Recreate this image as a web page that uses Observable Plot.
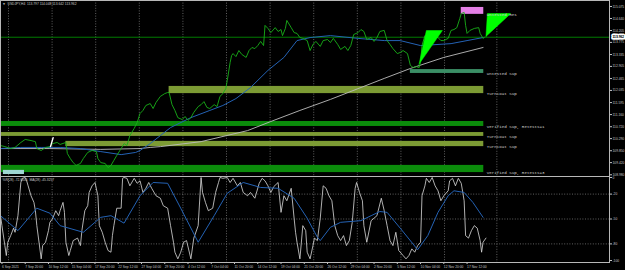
<!DOCTYPE html>
<html><head><meta charset="utf-8">
<script src="https://cdn.jsdelivr.net/npm/d3@7"></script>
<script src="https://cdn.jsdelivr.net/npm/@observablehq/plot@0.6"></script>
<style>
html,body{margin:0;padding:0;background:#000;}
#chart{width:625px;height:270px;background:#000;overflow:hidden}
#chart svg{display:block;max-width:none}
g[aria-label^="x-axis"] text{text-anchor:start !important}
</style></head><body><div id="chart"></div>
<script>
// ---------- DATA ----------
const symbolTitle = "USDJPY,H4  113.797 114.048 113.642 113.962";
const bidPrice = 113.962;
const priceTicks = [115.075,114.640,114.205,113.775,113.335,112.905,112.465,112.035,111.595,111.160,110.720,110.290,109.850,109.420,108.980];
const wprTicks = [0,-20,-50,-80,-100];
const wprLevels = [-20,-50,-80];
const gridBars = [5.5,35.5,65.5,95.5,125.5,155.5,185.5,215.5,245.5,275.5,305.5,341.5];
const labelBars = [1,17,33,49,65,81,97,113,129,145,161,177,193,209,225,241,257,273,289,305,321];
const dateLabels = ["6 Sep 2021","7 Sep 20:00","10 Sep 12:00","15 Sep 04:00","17 Sep 20:00","22 Sep 12:00","27 Sep 04:00","29 Sep 20:00","4 Oct 12:00","7 Oct 04:00","11 Oct 20:00","14 Oct 12:00","19 Oct 04:00","21 Oct 20:00","26 Oct 12:00","29 Oct 04:00","2 Nov 20:00","5 Nov 12:00","10 Nov 04:00","12 Nov 20:00","17 Nov 12:00"];

const priceBar = [0,3,7,10,14,17,21,24,25,28,31,34,36,39,41,45,46,48,50,52,55,57,60,63,66,67,69,72,74,76,78,80,83,85,87,89,92,94,96,98,100,103,105,107,110,113,115,116,118,120,122,125,127,129,131,133,136,138,140,142,144,147,149,151,153,155,156,158,159,160,162,164,166,169,171,173,175,177,179,181,182,184,186,189,191,193,194,196,197,200,202,204,206,208,211,213,215,217,220,222,225,227,229,232,234,237,239,241,243,246,248,250,252,255,257,259,261,264,266,268,270,273,275,277,280,282,284,286,288,289,290,292,294,296,299,301,303,305,308,310,312,314,316,317,319,320,321,323,326,329,330,332,333];
const priceClose = [110.04,110.00,109.93,109.97,110.15,110.26,110.22,110.18,109.93,109.86,109.97,110.00,110.11,110.15,110.08,110.15,109.75,109.57,109.42,109.32,109.39,109.57,109.79,109.86,109.82,109.57,109.42,109.39,109.24,109.32,109.50,109.68,109.93,110.11,110.04,110.40,110.66,110.87,111.20,111.31,111.49,111.56,111.38,111.60,111.82,111.92,111.96,111.96,111.52,111.31,111.05,110.98,111.09,110.95,111.05,111.24,111.45,111.52,111.63,111.42,111.38,111.52,111.45,111.82,111.92,112.10,112.39,113.05,113.30,113.37,113.26,113.48,113.34,113.23,113.48,113.59,113.55,113.66,113.81,113.66,114.39,114.28,114.13,114.31,114.17,114.24,114.02,114.28,114.57,114.31,114.13,114.10,113.95,113.92,113.84,113.48,113.70,113.81,113.63,113.84,113.88,113.77,113.92,113.70,113.52,113.63,113.48,113.66,114.06,114.13,114.24,114.17,113.88,113.95,113.81,113.95,114.17,114.21,113.84,113.70,113.55,113.37,113.41,113.48,113.37,112.94,112.86,112.90,112.86,113.05,113.66,114.02,113.99,114.10,114.02,113.95,113.84,113.84,113.92,114.21,114.24,114.31,114.64,114.82,114.86,114.39,114.10,114.21,114.28,114.31,114.10,113.92,113.96];

const maFastBar = [0,14,28,41,55,69,83,93,96,103,110,117,131,144,153,162,172,184,195,204,213,227,246,264,275,289,310,321,332];
const maFastVal = [109.93,109.97,109.97,109.97,109.93,109.82,109.71,109.79,109.86,110.11,110.40,110.69,111.05,111.31,111.49,111.74,112.14,112.76,113.23,113.84,113.95,114.02,113.92,113.84,113.84,113.66,113.73,113.84,113.95];

const maSlowBar = [0,34,69,96,103,110,138,170,186,206,227,246,264,282,305,332];
const maSlowVal = [109.93,109.93,109.90,109.93,109.97,110.00,110.18,110.58,110.91,111.31,111.71,112.10,112.47,112.83,113.23,113.59];

const zoneLabel = ["Untested Res","Untested Sup","Turncoat Sup","Verified Sup, Retests=1","Turncoat Sup","Turncoat Sup","Verified Sup, Retests=3"];
const zoneHigh  = [115.04,112.79,112.18,110.91,110.51,110.19,109.32];
const zoneLow   = [114.79,112.65,111.92,110.73,110.37,110.00,109.06];
const zoneStart = [317,282,116,0,0,45,0];
const zoneEnd   = 332.5;
const zoneLabelBar = 334.5;
const zoneColor = ["#e47fe6","#3b8f66","#7c9b34","#0b8c0b","#7c9b34","#7c9b34","#0b8c0b"];

const tri1 = [[288,112.99],[293,114.205],[304,114.205],[288,112.99]];
const tri2 = [[334,113.99],[335,114.82],[351,114.82],[334,113.99]];
const arrowMark = [[34.4,110.00],[36.2,110.32]];
const infoBox = {x1:2, x2:16.5, y1:108.99, y2:109.14};

const wprBar = [0,1,3,4,5,7,9,10,12,14,15,17,18,19,21,23,24,25,28,29,31,33,34,36,38,40,41,43,44,45,47,48,50,53,55,56,58,60,61,63,65,67,68,70,72,74,76,77,78,80,83,84,85,87,89,92,94,96,98,100,102,104,107,110,112,115,117,119,120,122,124,126,128,131,133,136,138,139,141,143,146,148,150,151,153,156,158,160,163,165,167,170,172,175,178,180,182,184,186,188,191,193,195,197,200,202,203,204,206,208,210,211,213,215,216,218,220,222,224,226,228,230,232,234,236,238,240,242,244,245,247,249,250,252,255,257,259,262,264,266,268,270,272,274,277,279,281,283,285,287,289,290,292,293,295,297,299,301,303,305,308,309,311,313,315,317,319,320,322,324,326,328,330,331,332,334];
const wprVal = [-46,-58,-82,-94,-78,-70,-61,-66,-46,-6,-1,0,-4,-10,-22,-30,-40,-58,-98,-82,-78,-64,-54,-49,-40,-46,-40,-30,-42,-78,-94,-88,-76,-73,-82,-64,-40,-34,-18,-10,-6,-22,-58,-66,-78,-88,-90,-70,-58,-37,-37,-1,0,-1,-10,-1,-7,-4,-18,-13,-6,-13,-22,-25,-34,-37,-58,-78,-90,-98,-90,-78,-76,-98,-73,-58,0,-18,-30,-40,-37,-18,-6,0,-1,0,-6,-1,-10,-6,-18,-22,-18,-25,-7,-1,-4,-10,-18,-11,-6,-42,-22,-28,-13,-49,-66,-78,-98,-58,-64,-90,-98,-82,-73,-76,-49,-10,-13,-22,-28,-58,-70,-76,-70,-82,-76,-54,-13,-6,-18,-28,-58,-78,-52,-49,-46,-25,-40,-58,-76,-82,-66,-88,-94,-98,-94,-86,-90,-82,-78,-22,-10,-1,-6,0,-10,-16,-28,-22,-16,-4,-1,-10,-1,-7,-28,-70,-73,-64,-58,-61,-76,-90,-78,-73];
const wprMaBar = [0,12,25,34,41,57,69,76,85,96,105,115,124,136,147,156,167,179,191,202,211,218,220,227,234,248,255,261,266,275,287,294,301,308,312,319,325,332];
const wprMaVal = [-46,-64,-37,-43,-58,-66,-48,-46,-55,-22,-6,-7,-37,-78,-46,-19,-6,-12,-13,-25,-49,-72,-76,-60,-54,-52,-46,-41,-42,-61,-87,-70,-42,-22,-16,-18,-30,-48];
const wprTitle = "%R(28) -72.6645  MA(28) -45.3257";

// ---------- TABLES ----------
const price = priceBar.map((b,i)=>({bar:b, v:priceClose[i]}));
const maFast = maFastBar.map((b,i)=>({bar:b, v:maFastVal[i]}));
const maSlow = maSlowBar.map((b,i)=>({bar:b, v:maSlowVal[i]}));
const zones = zoneLabel.map((l,i)=>({label:l, hi:zoneHigh[i], lo:zoneLow[i], x1:zoneStart[i], x2:zoneEnd, color:zoneColor[i]}));
const wpr = wprBar.map((b,i)=>({bar:b, v:wprVal[i]}));
const wprMa = wprMaBar.map((b,i)=>({bar:b, v:wprMaVal[i]}));
const toPts = a => a.map(([b,v])=>({bar:b, v}));

const FONT = "'Liberation Sans', Arial, sans-serif";
const MONO = "'Liberation Mono', 'DejaVu Sans Mono', monospace";
const GRID = {stroke:"#8a8a8a", strokeDasharray:"1,1.6", strokeWidth:0.7};
const FRAME = "#b8b8b8";
const XDOM = [0, 419];

const main = Plot.plot({
  width:625, height:176, marginLeft:0, marginRight:16, marginTop:0, marginBottom:0,
  style:{background:"#000", color:"#c4c4c4", fontFamily:FONT, fontSize:"3.3px"},
  x:{domain:XDOM, axis:null},
  y:{domain:[108.918,115.292], axis:"right", ticks:priceTicks, tickFormat:d3.format(".3f"), tickSize:2, tickPadding:1, label:null},
  marks:[
    Plot.ruleX(gridBars, GRID),
    Plot.rect(zones, {x1:"x1", x2:"x2", y1:"lo", y2:"hi", fill:"color"}),
    Plot.rect([infoBox], {x1:"x1", x2:"x2", y1:"y1", y2:"y2", fill:"#9fd6d2"}),
    Plot.ruleY([bidPrice], {stroke:"#008a00", strokeWidth:0.9}),
    Plot.line(maSlow, {x:"bar", y:"v", stroke:"#bdbdbd", strokeWidth:0.9}),
    Plot.line(maFast, {x:"bar", y:"v", stroke:"#2462b4", strokeWidth:1}),
    Plot.line(price, {x:"bar", y:"v", stroke:"#19b019", strokeWidth:0.9}),
    Plot.line(toPts(tri1), {x:"bar", y:"v", fill:"#00ff00", stroke:"#00ff00", strokeWidth:0.5}),
    Plot.line(toPts(tri2), {x:"bar", y:"v", fill:"#00ff00", stroke:"#00ff00", strokeWidth:0.5}),
    Plot.line(toPts(arrowMark), {x:"bar", y:"v", stroke:"#ffffff", strokeWidth:1.4}),
    Plot.text(zones, {x:()=>zoneLabelBar, y:"lo", text:"label", textAnchor:"start", fill:"#cfcfcf", fontFamily:MONO, fontSize:4.2}),
    Plot.text([bidPrice], {y:d=>d, text:d=>d.toFixed(3), frameAnchor:"right", dx:3, textAnchor:"start", fill:"#000", stroke:"#ffffff", strokeWidth:3.2, fontSize:3.3}),
    Plot.text([bidPrice], {y:d=>d, text:d=>d.toFixed(3), frameAnchor:"right", dx:3, textAnchor:"start", fill:"#000", fontSize:3.3}),
    Plot.text([symbolTitle], {frameAnchor:"top-left", dx:7, dy:2.5, lineAnchor:"top", textAnchor:"start", fill:"#c8c8c8", fontSize:3.3}),
    Plot.text(["▼"], {frameAnchor:"top-left", dx:2, dy:2.5, lineAnchor:"top", textAnchor:"start", fill:"#e0e0e0", fontSize:3}),
    Plot.frame({stroke:FRAME, strokeWidth:1})
  ]
});

const lower = Plot.plot({
  width:625, height:94, marginLeft:0, marginRight:16, marginTop:0, marginBottom:8,
  style:{background:"#000", color:"#c4c4c4", fontFamily:FONT, fontSize:"3.3px"},
  x:{domain:XDOM, axis:"bottom", ticks:labelBars, tickFormat:(d)=>dateLabels[labelBars.indexOf(d)], tickSize:2, tickPadding:1, label:null},
  y:{domain:[-102.4,1.2], axis:"right", ticks:wprTicks, tickFormat:d=>String(d), tickSize:2, tickPadding:1, label:null},
  marks:[
    Plot.ruleX(gridBars, GRID),
    Plot.ruleY(wprLevels, GRID),
    Plot.line(wpr, {x:"bar", y:"v", stroke:"#dcdcdc", strokeWidth:0.8}),
    Plot.line(wprMa, {x:"bar", y:"v", stroke:"#2462b4", strokeWidth:1}),
    Plot.text([wprTitle], {frameAnchor:"top-left", dx:2, dy:2, lineAnchor:"top", textAnchor:"start", fill:"#c8c8c8", fontSize:3.3}),
    Plot.frame({stroke:FRAME, strokeWidth:1})
  ]
});

const el = document.getElementById("chart");
el.appendChild(main);
el.appendChild(lower);
</script></body></html>
